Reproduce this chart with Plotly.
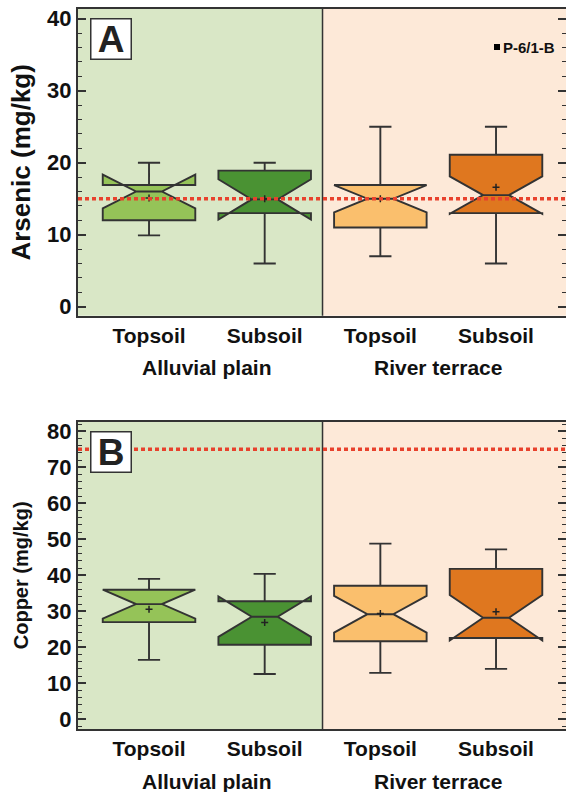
import plotly.graph_objects as go

# ---------------- data ----------------
soil_labels = ["Topsoil", "Subsoil", "Topsoil", "Subsoil"]
group_labels = ["Alluvial plain", "River terrace"]
box_colors = ["#95c358", "#4a9233", "#fabf6d", "#df771f"]

arsenic_q1 = [12.0, 13.0, 11.0, 13.0]
arsenic_median = [16.0, 14.9, 15.0, 15.5]
arsenic_q3 = [16.9, 18.9, 16.9, 21.1]
arsenic_low = [9.9, 6.0, 7.0, 6.0]
arsenic_high = [20.0, 20.0, 25.0, 25.0]
arsenic_mean = [15.1, 15.0, 15.0, 16.6]
arsenic_notch = [2.35, 2.8, 1.9, 2.6]
arsenic_limit = 15

copper_q1 = [27.0, 20.7, 21.7, 22.6]
copper_median = [32.0, 28.5, 29.2, 28.2]
copper_q3 = [36.0, 32.8, 37.1, 41.8]
copper_low = [16.5, 12.6, 12.9, 14.0]
copper_high = [39.0, 40.4, 48.8, 47.2]
copper_mean = [30.6, 26.9, 29.4, 29.9]
copper_notch = [4.0, 5.6, 5.1, 6.3]
copper_limit = 75

legend_label = "P-6/1-B"

positions = list(range(len(soil_labels)))
FONT = "Liberation Sans, Arial, sans-serif"
DARK = "#333333"
RED = "#e8412c"
W, H, ML = 566, 792, 78
PW = W - ML

fig = go.Figure()

panels = [
    dict(q1=arsenic_q1, med=arsenic_median, q3=arsenic_q3, lo=arsenic_low,
         hi=arsenic_high, mean=arsenic_mean, notch=arsenic_notch, x="x", y="y"),
    dict(q1=copper_q1, med=copper_median, q3=copper_q3, lo=copper_low,
         hi=copper_high, mean=copper_mean, notch=copper_notch, x="x2", y="y2"),
]

for p in panels:
    for i, pos in enumerate(positions):
        fig.add_trace(go.Box(
            x=[pos], q1=[p["q1"][i]], median=[p["med"][i]], q3=[p["q3"][i]],
            lowerfence=[p["lo"][i]], upperfence=[p["hi"][i]],
            notchspan=[p["notch"][i]], notched=True, notchwidth=0.36,
            width=0.8, whiskerwidth=0.24, boxpoints=False,
            fillcolor=box_colors[i], line=dict(color=DARK, width=1.9),
            xaxis=p["x"], yaxis=p["y"], showlegend=False,
        ))
    fig.add_trace(go.Scatter(
        x=positions, y=p["mean"], mode="markers",
        marker=dict(symbol="cross-thin", size=5, line=dict(color="#222222", width=1.5)),
        xaxis=p["x"], yaxis=p["y"], showlegend=False,
    ))

xr = [-0.614, 3.605]
shapes = []
for xref, yref in [("x", "y"), ("x2", "y2")]:
    shapes.append(dict(type="rect", xref=xref, yref=yref + " domain", x0=xr[0], x1=1.5,
                       y0=0, y1=1, fillcolor="#d9e7c6", line=dict(width=0), layer="below"))
    shapes.append(dict(type="rect", xref=xref, yref=yref + " domain", x0=1.5, x1=xr[1],
                       y0=0, y1=1, fillcolor="#fde9d8", line=dict(width=0), layer="below"))
    shapes.append(dict(type="line", xref=xref, yref=yref + " domain", x0=1.5, x1=1.5,
                       y0=0, y1=1, line=dict(color=DARK, width=1.5)))
for xref, yref, lim in [("x", "y", arsenic_limit), ("x2", "y2", copper_limit)]:
    shapes.append(dict(type="line", xref=xref + " domain", yref=yref, x0=0, x1=1,
                       y0=lim, y1=lim, line=dict(color=RED, width=3.5, dash="4px,3px")))
# legend square
shapes.append(dict(type="rect", xref="paper", yref="paper", xsizemode="pixel", ysizemode="pixel",
                   xanchor=(497 - ML) / PW, yanchor=1 - 47 / H, x0=-3, x1=3, y0=-3, y1=3,
                   fillcolor="black", line=dict(width=0)))

yaxis_common = dict(
    ticks="inside", ticklen=8, tickwidth=1.5, tickcolor=DARK, dtick=10,
    minor=dict(dtick=2, ticks="inside", ticklen=4, tickwidth=1.2, tickcolor=DARK),
    showline=True, linecolor=DARK, linewidth=2, mirror="ticks",
    showgrid=False, zeroline=False, automargin=False,
    tickfont=dict(family=FONT, size=22, color="#111111", weight="bold"),
)
xaxis_common = dict(
    range=xr, tickvals=positions, ticktext=soil_labels, ticks="",
    showline=True, linecolor=DARK, linewidth=2, mirror=True,
    showgrid=False, zeroline=False, automargin=False,
    tickfont=dict(family=FONT, size=21, color="#111111", weight="bold"),
)

annotations = []
for yref, letter in [("y", "A"), ("y2", "B")]:
    annotations.append(dict(
        text=letter, xref="paper", yref=yref + " domain",
        x=(90 - ML) / PW, y=0.97, xanchor="left", yanchor="top",
        showarrow=False, bgcolor="white", bordercolor=DARK, borderwidth=1.5,
        width=37, height=37, borderpad=1,
        font=dict(family=FONT, size=37, color="#222222", weight="bold"),
    ))
for gi, gname in enumerate(group_labels):
    gx = (positions[2 * gi] + positions[2 * gi + 1]) / 2
    for xref, ypix in [("x", 367.6), ("x2", 781.0)]:
        annotations.append(dict(
            text=gname, xref=xref, yref="paper", x=gx, y=1 - ypix / H,
            xanchor="center", yanchor="middle", showarrow=False,
            font=dict(family=FONT, size=21, color="#111111", weight="bold"),
        ))
annotations.append(dict(
    text=legend_label, xref="paper", yref="paper", x=(501 - ML) / PW, y=1 - 47 / H,
    xanchor="left", yanchor="middle", showarrow=False,
    font=dict(family=FONT, size=15, color="#111111", weight="bold"),
))

fig.update_layout(
    width=W, height=H, margin=dict(l=ML, r=0, t=0, b=0),
    paper_bgcolor="white", plot_bgcolor="rgba(0,0,0,0)",
    showlegend=False, boxmode="overlay",
    xaxis=dict(xaxis_common, anchor="y", domain=[0, 1]),
    xaxis2=dict(xaxis_common, anchor="y2", domain=[0, 1]),
    yaxis=dict(yaxis_common, anchor="x", domain=[0.6014, 0.98864], range=[-1.25, 41.35],
               title=dict(text="Arsenic (mg/kg)", standoff=9,
                          font=dict(family=FONT, size=26, color="#111111", weight="bold"))),
    yaxis2=dict(yaxis_common, anchor="x2", domain=[0.07955, 0.46755], range=[-2.69, 82.67],
                title=dict(text="Copper (mg/kg)", standoff=13,
                           font=dict(family=FONT, size=20, color="#111111", weight="bold"))),
    shapes=shapes, annotations=annotations,
)

fig.write_html(
    "out.html",
    config={"displayModeBar": False},
    post_script="document.body.style.margin='0';document.body.style.overflow='hidden';",
)
